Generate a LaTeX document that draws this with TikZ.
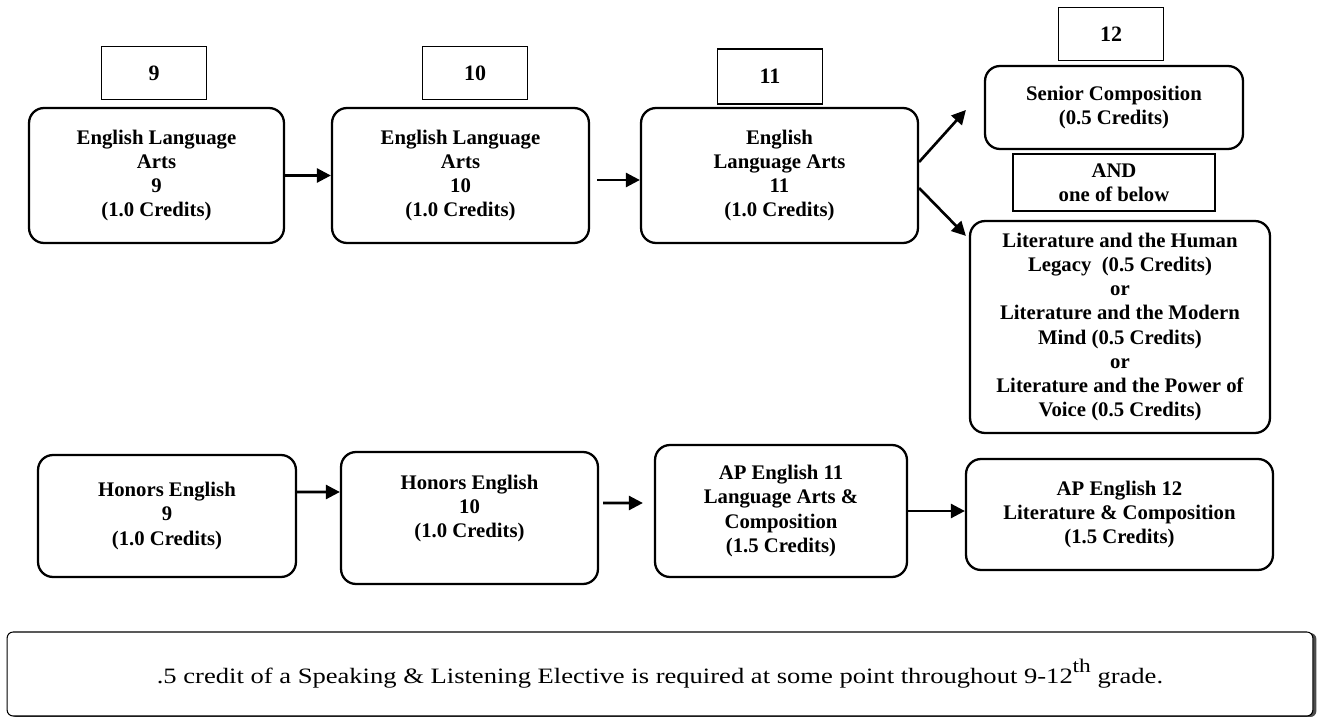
\documentclass[tikz,border=0pt]{standalone}
\usepackage{fontspec}
\setmainfont{Liberation Serif}
\usepackage{tikz}
\usetikzlibrary{arrows.meta}
\usetikzlibrary{shadows}

\begin{document}
\begin{tikzpicture}[x=0.02cm, y=-0.02cm,
		course/.style={draw, line width=1.3pt, rounded corners=0.3cm, align=center, inner sep=0pt, font=\bfseries\fontsize{11.8}{13.7}\selectfont},
		grade/.style={draw, line width=1.1pt, minimum width=2.1cm, minimum height=1.06cm, align=center, inner sep=0pt, font=\bfseries\fontsize{12.5}{13.7}\selectfont},
		arr/.style={-{Triangle[length=8pt,width=8pt]}, line width=1.5pt}]
				\useasboundingbox (0, 0) rectangle (1320, 717);
				\node[grade] (g9) at (154, 73) {9};
				\node[grade] (g10) at (475, 73) {10};
				\node[grade, minimum height=1.1cm] (g11) at (770, 76.5) {11};
				\node[grade] (g12) at (1111, 34) {12};
				\node[course, minimum width=5.1cm, minimum height=2.7cm] (ela9) at (156.5, 175.5) {English Language\\Arts\\9\\(1.0 Credits)};
				\node[course, minimum width=5.14cm, minimum height=2.7cm] (ela10) at (460.5, 175.5) {English Language\\Arts\\10\\(1.0 Credits)};
				\node[course, minimum width=5.54cm, minimum height=2.7cm] (ela11) at (779.5, 175.5) {English\\Language Arts\\11\\(1.0 Credits)};
				\node[course, minimum width=5.16cm, minimum height=1.66cm] (senior) at (1114, 107.5) {Senior Composition\\(0.5 Credits)};
				\node[grade, minimum width=4.04cm, minimum height=1.14cm, font=\bfseries\fontsize{11.8}{13.7}\selectfont] (and) at (1114, 182.5) {AND\\one of below};
				\node[course, minimum width=6cm, minimum height=4.24cm] (lit) at (1120, 327) {Literature and the Human\\Legacy\ \ (0.5 Credits)\\or\\Literature and the Modern\\Mind (0.5 Credits)\\or\\Literature and the Power of\\Voice (0.5 Credits)};
				\node[course, minimum width=5.16cm, minimum height=2.44cm] (hon9) at (167, 516) {Honors English\\9\\(1.0 Credits)};
				\node[course, minimum width=5.14cm, minimum height=2.64cm] (hon10) at (469.5, 518) {Honors English\\10\\(1.0 Credits)\\\mbox{}};
				\node[course, minimum width=5.04cm, minimum height=2.64cm] (ap11) at (781, 511) {AP English 11\\Language Arts \&\\Composition\\(1.5 Credits)};
				\node[course, minimum width=6.14cm, minimum height=2.22cm] (ap12) at (1119.5, 514.5) {AP English 12\\Literature \& Composition\\(1.5 Credits)};
				\node[draw, line width=0.6pt, rounded corners=0.12cm, minimum width=26.12cm, minimum height=1.68cm, fill=white, drop shadow={shadow xshift=0.07cm, shadow yshift=-0.02cm, fill=black!70, opacity=1}, font=\fontsize{12.5}{15}\selectfont] (note) at (660, 674) {\scalebox{1.21}[1]{.5 credit of a Speaking \& Listening Elective is required at some point throughout 9-12\raisebox{0.5em}{\fontsize{11}{11}\selectfont th} grade.}};
				\draw[arr] (ela9) -- (ela10);
				\draw[arr, shorten <=0.14cm] ([yshift=-0.09cm]ela10.east) -- ([yshift=-0.09cm]ela11.west);
				\draw[arr] ([yshift=0.27cm]ela11.east) -- ([xshift=-0.36cm, yshift=-0.05cm]senior.west);
				\draw[arr] ([yshift=-0.25cm]ela11.east) -- ([xshift=-0.06cm, yshift=-0.32cm]lit.north west);
				\draw[arr] ([yshift=0.48cm]hon9.east) -- ([yshift=0.52cm]hon10.west);
				\draw[arr, shorten <=0.08cm, shorten >=0.22cm] ([yshift=0.3cm]hon10.east) -- ([yshift=0.16cm]ap11.west);
				\draw[arr] (ap11.east) -- (ap11.east -| ap12.west);
\end{tikzpicture}
\end{document}
